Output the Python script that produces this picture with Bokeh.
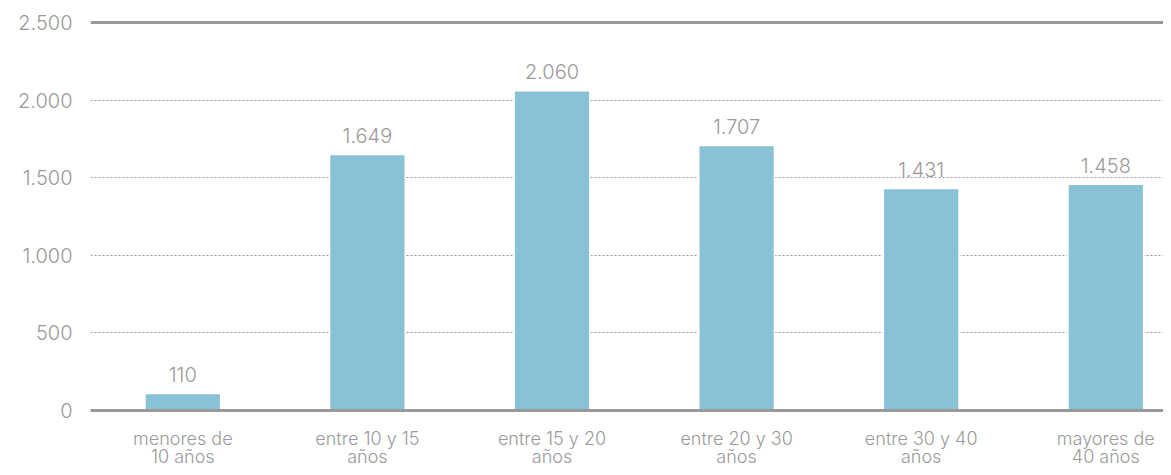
from bokeh.plotting import figure
from bokeh.models import Range1d, FixedTicker, Grid, ColumnDataSource
from bokeh.core.properties import value
from bokeh.embed import file_html
from bokeh.resources import INLINE

categories = ["menores de\n10 años", "entre 10 y 15\naños", "entre 15 y 20\naños",
              "entre 20 y 30\naños", "entre 30 y 40\naños", "mayores de\n40 años"]
values = [110, 1649, 2060, 1707, 1431, 1458]
value_labels = ["110", "1.649", "2.060", "1.707", "1.431", "1.458"]
y_ticks = [0, 500, 1000, 1500, 2000, 2500]
y_tick_labels = ["0", "500", "1.000", "1.500", "2.000", "2.500"]

FONT = "'Inter Light', Inter"
GREY = "#9a9a9a"
LINE = "#999999"
BAR = "#89c1d6"

xs = list(range(len(categories)))
src = ColumnDataSource(dict(x=xs, top=values, label=value_labels,
                            base=[0] * len(xs), cat=categories))

p = figure(width=1163, height=467, output_backend="svg", toolbar_location=None,
           x_range=Range1d(-0.5, 5.3126), y_range=Range1d(-367.2, 2532),
           min_border_left=90, min_border_right=0, min_border_top=17, min_border_bottom=0)
p.outline_line_color = None
p.background_fill_color = "white"
p.xgrid.visible = False
p.ygrid.visible = False

# dotted interior grid
inner = Grid(dimension=1, ticker=FixedTicker(ticks=y_ticks[1:-1]),
             grid_line_color=LINE, grid_line_dash="2 2", grid_line_width=1)
p.add_layout(inner)
# solid top line
outer = Grid(dimension=1, ticker=FixedTicker(ticks=[y_ticks[-1]]),
             grid_line_color=LINE, grid_line_width=3)
p.add_layout(outer)

p.vbar(x="x", top="top", bottom=0, width=0.41, source=src,
       fill_color=BAR, line_color="white", line_width=1.5)

zero = Grid(dimension=1, ticker=FixedTicker(ticks=[y_ticks[0]]),
            grid_line_color=LINE, grid_line_width=3, level="overlay")
p.add_layout(zero)

# value labels
p.text(x="x", y="top", text="label", source=src, text_align="center",
       text_baseline="alphabetic", y_offset=-19, text_font=value(FONT),
       text_font_size="20px", text_color=GREY)

# category labels under the zero line
p.text(x="x", y="base", text="cat", source=src, text_align="center",
       text_baseline="top", y_offset=17, text_font=value(FONT),
       text_font_size="18px", text_color=GREY, text_line_height=0.88)

# axes
p.yaxis.ticker = FixedTicker(ticks=y_ticks)
p.yaxis.major_label_overrides = {t: l for t, l in zip(y_ticks, y_tick_labels)}
p.yaxis.axis_line_color = None
p.yaxis.major_tick_line_color = None
p.yaxis.minor_tick_line_color = None
p.yaxis.major_tick_out = 0
p.yaxis.major_tick_in = 0
p.yaxis.major_label_standoff = 18
p.yaxis.major_label_text_font = FONT
p.yaxis.major_label_text_font_size = "20px"
p.yaxis.major_label_text_color = GREY

p.xaxis.visible = False

open("out.html", "w").write(file_html(p, INLINE))
